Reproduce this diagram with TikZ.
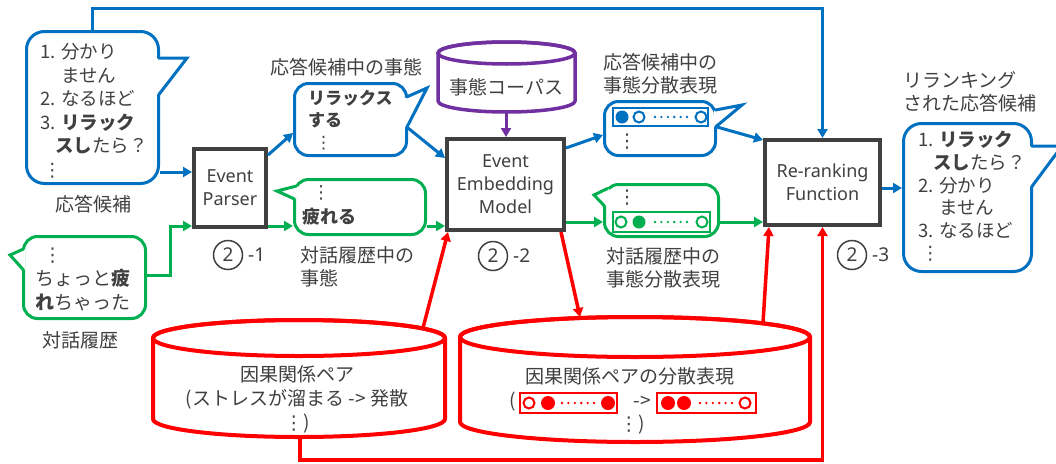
\documentclass[tikz,border=0pt]{standalone}
\usepackage{fontspec}
\setmainfont{Noto Sans CJK JP}
\newfontfamily\latinfont{Noto Sans}
\newfontfamily\dvfont{DejaVu Sans}
\usetikzlibrary{arrows.meta}
\definecolor{myblue}{HTML}{0070C0}
\definecolor{mygreen}{HTML}{00B050}
\definecolor{myred}{HTML}{FF0000}
\definecolor{mypurple}{HTML}{7030A0}
\definecolor{textgray}{HTML}{404040}
\newcommand\vd{{\dvfont ⋮}}
\newcommand\bubtail[4]{%
  \fill[white] #2 -- #3 -- #4 -- cycle;
  \draw[white, line width=3.8pt] #2 -- #4;
  \draw[#1, line width=3pt, line join=miter, line cap=round] #2 -- #3 -- #4;}
\newcommand\dotrow[3]{\foreach \i in {0,...,5} \fill[#1] ({#2+\i*6.4},#3) circle (1.3);}
\begin{document}
\begin{tikzpicture}[x=1pt,y=1pt,
 txt/.style={inner sep=0pt, text=textgray, font=\fontsize{19}{23}\selectfont},
 lat/.style={inner sep=0pt, text=textgray, font=\latinfont\fontsize{19}{23}\selectfont},
 bubble/.style={draw, line width=3pt, rounded corners=14pt, fill=white, inner sep=0pt},
 procbox/.style={draw=textgray, line width=4pt, fill=white, inner sep=0pt, align=center, text=textgray, font=\latinfont\fontsize{18}{23}\selectfont},
 circnum/.style={circle, draw=textgray, line width=1.5pt, minimum size=29pt, inner sep=0pt, text=textgray, font=\latinfont\fontsize{19}{20}\selectfont},
 arrowed/.style={-{Triangle[length=9pt,width=10pt]}},
 bl/.style={draw=myblue, line width=3pt},
 gl/.style={draw=mygreen, line width=3pt},
 rl/.style={draw=myred, line width=3.5pt},
 pl/.style={draw=mypurple, line width=3pt},
]
\useasboundingbox[fill=white] (0,0) rectangle (1056,-463);

% ---------- cylinders ----------
\filldraw[fill=white, draw=mypurple, line width=3.5pt] (438,-53) -- (438,-101)
  arc[start angle=180,end angle=360,x radius=68.5,y radius=11] -- (575,-53)
  arc[start angle=0,end angle=180,x radius=68.5,y radius=11] -- cycle;
\draw[mypurple, line width=3.5pt] (506.5,-53) ellipse[x radius=68.5, y radius=11];
\node[txt] (corpus) at (506.5,-87) {事態コーパス};
\coordinate (corpbot) at (506,-112);

\filldraw[fill=white, draw=myred, line width=4pt] (153,-338) -- (153,-419)
  arc[start angle=180,end angle=360,x radius=146,y radius=18] -- (445,-338)
  arc[start angle=0,end angle=180,x radius=146,y radius=18] -- cycle;
\draw[myred, line width=4pt] (299,-338) ellipse[x radius=146, y radius=18];
\node[txt, align=center, font=\fontsize{19}{24}\selectfont] (causal) at (297,-399) {因果関係ペア\\(ストレスが溜まる -> 発散\\\vd)};
\coordinate (ctop) at (423,-328);
\coordinate (cbot) at (300,-437);

\filldraw[fill=white, draw=myred, line width=4pt] (460,-337) -- (460,-422)
  arc[start angle=180,end angle=360,x radius=175,y radius=20] -- (810,-337)
  arc[start angle=0,end angle=180,x radius=175,y radius=20] -- cycle;
\draw[myred, line width=4pt] (635,-337) ellipse[x radius=175, y radius=20];
\node[txt] (causalvec) at (630,-376) {因果関係ペアの分散表現};
\node[txt] (lpar) at (513,-402) {(};
\node[txt] (arrowtxt) at (642,-402) {->};
\node[txt] (vdend) at (632,-425) {\vd)};
\draw[myred, line width=2pt] (520,-393) rectangle (617,-413);
\draw[myred, line width=2pt, fill=white] (529,-403) circle (5.5);
\fill[myred] (548,-403) circle (7);
\dotrow{myred}{562}{-403}
\fill[myred] (608,-403) circle (7);
\draw[myred, line width=2pt] (657,-393) rectangle (756,-413);
\fill[myred] (668,-403) circle (7);
\fill[myred] (684,-403) circle (7);
\dotrow{myred}{700}{-403}
\draw[myred, line width=2pt, fill=white] (745,-403) circle (5.5);
\coordinate (vtop1) at (580,-317);
\coordinate (vtop2) at (763,-323);

% ---------- boxes ----------
\node[procbox, minimum width=72pt, minimum height=78pt] (parser) at (230,-188) {Event\\Parser};
\node[procbox, minimum width=117pt, minimum height=91pt] (emb) at (505.5,-184.5) {Event\\Embedding\\Model};
\node[procbox, minimum width=115pt, minimum height=85pt] (rerank) at (822.5,-182.5) {Re-ranking\\Function};

\node[circnum] (c1) at (228,-255) {2};
\node[lat, anchor=west] (c1l) at (248,-255) {-1};
\node[circnum] (c2) at (493,-256) {2};
\node[lat, anchor=west] (c2l) at (513,-256) {-2};
\node[circnum] (c3) at (852,-255) {2};
\node[lat, anchor=west] (c3l) at (872,-255) {-3};

% ---------- bubbles ----------
\node[bubble, draw=myblue, rounded corners=18pt, minimum width=132pt, minimum height=152pt] (cand) at (92.5,-107.5) {};
\bubtail{myblue}{(158.5,-58)}{(187,-58)}{(158.5,-95)}
\node[txt, anchor=west, align=left, font=\fontsize{18.5}{23.5}\selectfont] (candtxt) at (40,-111)
 {1. 分かり\\\phantom{1. }ません\\2. なるほど\\3. \textbf{リラック}\\\hspace*{15pt}\textbf{スし}たら？\\\hspace*{3pt}\vd};

\node[bubble, draw=mygreen, minimum width=122pt, minimum height=82pt] (hist) at (84.5,-277.5) {};
\bubtail{mygreen}{(23.5,-249)}{(10,-255)}{(23.5,-270)}
\node[txt, anchor=west, align=left, font=\fontsize{19}{24}\selectfont] (histtxt) at (35,-279)
 {\hspace*{8pt}\vd\\ちょっと\textbf{疲}\\\textbf{れ}ちゃった};

\node[bubble, draw=myblue, minimum width=112pt, minimum height=72pt] (evc) at (350.5,-119.5) {};
\bubtail{myblue}{(406.5,-97)}{(427,-88)}{(406.5,-128)}
\node[txt, anchor=west, align=left, font=\fontsize{17}{22}\selectfont] (evctxt) at (308,-120)
 {\textbf{リラックス}\\\textbf{する}\\\hspace*{7pt}\vd};

\node[bubble, draw=mygreen, minimum width=131pt, minimum height=55pt] (evh) at (360,-207) {};
\bubtail{mygreen}{(296.5,-186)}{(277,-191)}{(294.5,-199)}
\node[txt, anchor=west, align=left, font=\fontsize{18}{25}\selectfont] (evhtxt) at (302,-205.5)
 {\hspace*{10pt}\vd\\\textbf{疲れる}};

\node[bubble, draw=myblue, minimum width=111pt, minimum height=54pt] (vecc) at (660,-128.5) {};
\bubtail{myblue}{(715.5,-110)}{(742,-105)}{(715.5,-127)}
\draw[myblue, line width=2pt] (613,-108) rectangle (708,-126);
\fill[myblue] (622,-117) circle (6.5);
\draw[myblue, line width=2pt, fill=white] (639,-117) circle (5.5);
\dotrow{myblue}{655}{-117}
\draw[myblue, line width=2pt, fill=white] (701,-117) circle (5.5);
\node[txt] (veccdots) at (627,-142) {\vd};

\node[bubble, draw=mygreen, minimum width=114pt, minimum height=52pt] (vech) at (661.5,-210.5) {};
\bubtail{mygreen}{(607.5,-188.5)}{(594,-195)}{(604.5,-206)}
\draw[mygreen, line width=2pt] (613,-212) rectangle (710,-232);
\draw[mygreen, line width=2pt, fill=white] (621,-222) circle (5.5);
\fill[mygreen] (639,-222) circle (6.5);
\dotrow{mygreen}{655}{-222}
\draw[mygreen, line width=2pt, fill=white] (702,-222) circle (5.5);
\node[txt] (vechdots) at (627,-198) {\vd};

\node[bubble, draw=myblue, rounded corners=18pt, minimum width=128pt, minimum height=148pt] (out) at (967.5,-197.5) {};
\bubtail{myblue}{(1031.5,-146)}{(1062,-146)}{(1031.5,-187)}
\node[txt, anchor=west, align=left, font=\fontsize{18.5}{22.6}\selectfont] (outtxt) at (918,-196.5)
 {1. \textbf{リラック}\\\hspace*{15pt}\textbf{スし}たら？\\2. 分かり\\\phantom{2. }ません\\3. なるほど\\\hspace*{3pt}\vd};

% ---------- labels ----------
\node[txt] (lcand) at (93,-204) {応答候補};
\node[txt] (lhist) at (80,-340) {対話履歴};
\node[txt] (levc) at (346,-67) {応答候補中の事態};
\node[txt, anchor=west, align=left] (levh) at (300,-266.5) {対話履歴中の\\事態};
\node[txt, anchor=west, align=left] (lvecc) at (603,-73.5) {応答候補中の\\事態分散表現};
\node[txt, anchor=west, align=left] (lvech) at (606,-268) {対話履歴中の\\事態分散表現};
\node[txt, anchor=west, align=left] (lout) at (903,-91.5) {リランキング\\された応答候補};

% ---------- connectors ----------
\draw[bl, arrowed] (cand.north) -- (cand.north |- 0,-8) -| (rerank.north);
\draw[bl, arrowed] (cand.east |- 0,-172) -- (parser.west |- 0,-172);
\draw[gl, arrowed] (hist.east |- 0,-275) -| (170,-250) |- (parser.west |- 0,-226);
\draw[bl, arrowed] (parser.east |- 0,-155) -- (evc.west |- 0,-133);
\draw[bl, arrowed] (evc.east |- 0,-128) -- (emb.west |- 0,-158);
\draw[gl, arrowed] (parser.east |- 0,-226) -- (evh.west |- 0,-226);
\draw[gl, arrowed] (evh.east |- 0,-226) -- (emb.west |- 0,-226);
\draw[pl, arrowed] (corpbot) -- (corpbot |- emb.north);
\draw[bl, arrowed] (emb.east |- 0,-148) -- (vecc.west |- 0,-135);
\draw[bl, arrowed] (vecc.east |- 0,-127) -- (rerank.west |- 0,-140);
\draw[gl, arrowed] (emb.east |- 0,-222) -- (vech.west |- 0,-222);
\draw[gl, arrowed] (vech.east |- 0,-222) -- (rerank.west |- 0,-222);
\draw[bl, arrowed] (rerank.east |- 0,-188) -- (out.west |- 0,-188);
\draw[rl, arrowed] (ctop) -- ([xshift=3pt]emb.south west);
\draw[rl, arrowed] ([xshift=-5pt]emb.south east) -- (vtop1);
\draw[rl, arrowed] (vtop2) -- ([xshift=6pt]rerank.south west);
\draw[rl, arrowed] (cbot) -- (300,-460) -| (rerank.south);
\end{tikzpicture}
\end{document}
